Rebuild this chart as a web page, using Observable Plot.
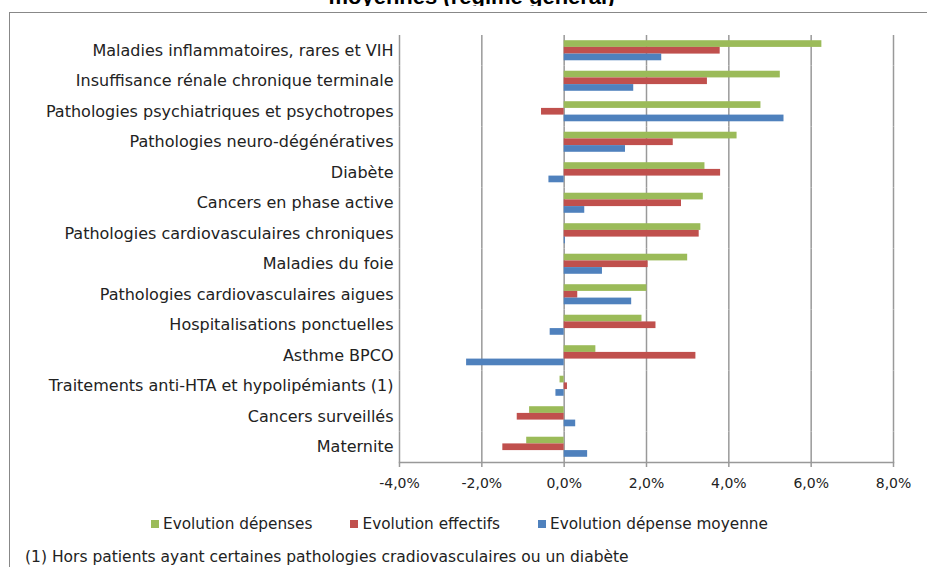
<!DOCTYPE html>
<html><head><meta charset="utf-8">
<script src="https://cdn.jsdelivr.net/npm/d3@7"></script>
<script src="https://cdn.jsdelivr.net/npm/@observablehq/plot@0.6"></script>
<style>
body{margin:0;width:927px;height:567px;overflow:hidden;background:#fff;position:relative;font-family:"DejaVu Sans",sans-serif;color:#222;}
#frame{position:absolute;left:9px;top:12px;width:1000px;height:1000px;border-left:1.5px solid #888;border-top:1.5px solid #888;}
#titleclip{position:absolute;left:0;top:0;width:927px;height:6px;overflow:hidden;}
#title{position:absolute;left:8px;width:927px;text-align:center;top:-14px;font:bold 22px "Liberation Sans",Arial,sans-serif;line-height:22px;color:#000;white-space:nowrap;}
#chart{position:absolute;left:0;top:0;}
#legend{position:absolute;top:514px;left:151px;display:flex;gap:38px;font-size:15.3px;line-height:20px;}
#legend .item{display:flex;align-items:center;white-space:nowrap;}
#legend .sw{display:inline-block;width:8px;height:8px;margin-right:4px;}
#note{position:absolute;left:25px;top:548px;font-size:15.5px;line-height:18px;white-space:nowrap;}
</style></head>
<body>
<div id="frame"></div>
<div id="titleclip"><div id="title"></div></div>
<div id="chart"></div>
<div id="legend"></div>
<div id="note"></div>
<script>
const titleText = "moyennes (régime général)";
const noteText = "(1) Hors patients ayant certaines pathologies cradiovasculaires ou un diabète";
const categories = [
  "Maladies inflammatoires, rares et VIH",
  "Insuffisance rénale chronique terminale",
  "Pathologies psychiatriques et psychotropes",
  "Pathologies neuro-dégénératives",
  "Diabète",
  "Cancers en phase active",
  "Pathologies cardiovasculaires chroniques",
  "Maladies du foie",
  "Pathologies cardiovasculaires aigues",
  "Hospitalisations ponctuelles",
  "Asthme BPCO",
  "Traitements anti-HTA et hypolipémiants (1)",
  "Cancers surveillés",
  "Maternite"
];
const seriesNames = ["Evolution dépenses", "Evolution effectifs", "Evolution dépense moyenne"];
const depenses       = [6.26, 5.25, 4.78, 4.20, 3.42, 3.38, 3.32, 3.00, 2.01, 1.89, 0.77, -0.10, -0.84, -0.91];
const effectifs      = [3.79, 3.48, -0.55, 2.65, 3.80, 2.85, 3.28, 2.04, 0.33, 2.23, 3.20, 0.08, -1.14, -1.49];
const depenseMoyenne = [2.37, 1.69, 5.34, 1.49, -0.37, 0.50, 0.03, 0.93, 1.64, -0.34, -2.37, -0.20, 0.28, 0.57];
const xTicks = [-4, -2, 0, 2, 4, 6, 8];
const colors = ["#9BBB59", "#C0504D", "#4F81BD"];

document.getElementById("title").textContent = titleText;
document.getElementById("note").textContent = noteText;

const seriesArrays = [depenses, effectifs, depenseMoyenne];
const rows = categories.flatMap((c, i) => seriesArrays.map((arr, j) => ({category: c, series: seriesNames[j], value: arr[i]})));

const chart = Plot.plot({
  width: 927, height: 495,
  marginTop: 35, marginBottom: 33, marginLeft: 399, marginRight: 34,
  style: {fontFamily: '"DejaVu Sans", sans-serif', fontSize: "16px", color: "#222", background: "transparent"},
  x: {domain: [-4, 8], axis: null},
  y: {domain: seriesNames, paddingInner: 0, paddingOuter: 0.78, axis: null, round: false},
  fy: {domain: categories, padding: 0, axis: null, round: false},
  color: {domain: seriesNames, range: colors},
  marks: [
    Plot.ruleX(xTicks, {stroke: "#999", strokeWidth: 1.5, strokeOpacity: 1}),
    Plot.barX(rows, {x: "value", y: "series", fy: "category", fill: "series"}),
    Plot.axisFy({anchor: "left", tickSize: 0, tickPadding: 6, label: null, fontSize: 16}),
    Plot.axisX({ticks: xTicks, tickFormat: d => d.toFixed(1).replace(".", ",") + "%", tickSize: 5, tickPadding: 11, stroke: "#999", strokeWidth: 1.5, label: null, fontSize: 14}),
    Plot.frame({anchor: "bottom", facet: "super", stroke: "#999", strokeWidth: 1.5})
  ]
});
document.getElementById("chart").appendChild(chart);

const legend = document.getElementById("legend");
seriesNames.forEach((name, j) => {
  const item = document.createElement("div");
  item.className = "item";
  const sw = document.createElement("span");
  sw.className = "sw";
  sw.style.background = colors[j];
  item.appendChild(sw);
  item.appendChild(document.createTextNode(name));
  legend.appendChild(item);
});
</script>
</body></html>
